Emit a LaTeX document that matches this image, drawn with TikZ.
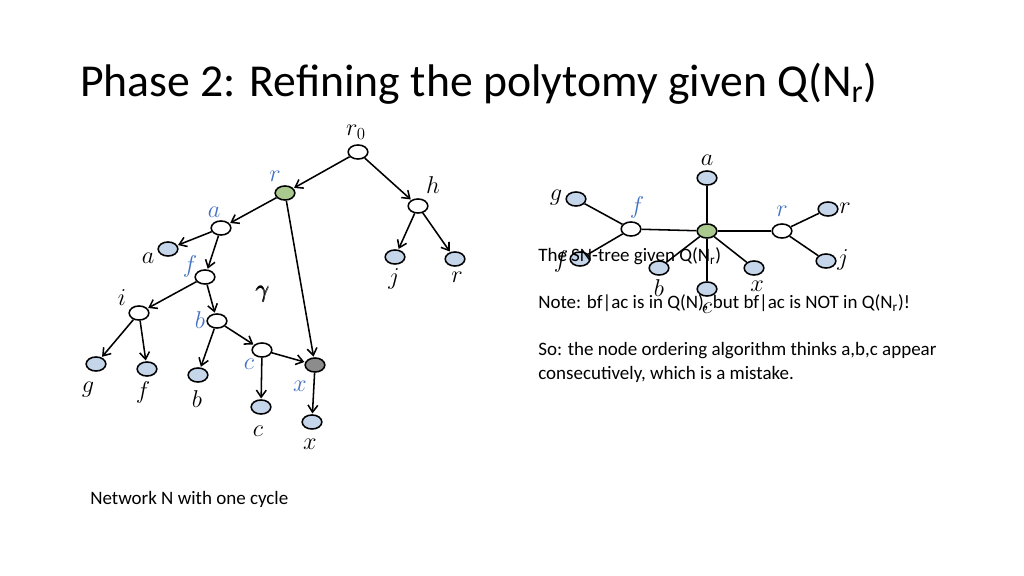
\documentclass[tikz,border=0pt]{standalone}
\usepackage{amsmath,amssymb}
\usepackage{fontspec}
\setmainfont{Carlito}
\usetikzlibrary{arrows.meta, positioning, shapes.geometric}
\definecolor{leafBlue}{HTML}{C5D5EA}
\definecolor{hubGreen}{HTML}{A9C98E}
\definecolor{retGray}{HTML}{8C8C8C}
\definecolor{labBlue}{HTML}{4472C4}
\tikzset{
    inner/.style={ellipse, draw, line width=1.1pt, fill=white, minimum width=14pt, minimum height=10pt, inner sep=0pt},
    leaf/.style={inner, fill=leafBlue},
    edge/.style={-{Straight Barb[length=5pt,width=7pt]}, line width=1.1pt, shorten >=0.5pt},
    plain/.style={line width=1.1pt},
    lab/.style={font=\LARGE},
    blab/.style={font=\LARGE, text=labBlue}
}
\begin{document}
\begin{tikzpicture}[x=0.025cm, y=-0.025cm]
        \useasboundingbox (0,0) rectangle (1024,576);
        % Title
        \node[anchor=base west, font=\fontsize{32.5}{36}\selectfont, inner sep=0pt] (title) at (80,97) {Phase 2: Refining the polytomy given Q(N\textsubscript{r})};

        % Network N
        \node[inner] (r0) at (358,152) {};
        \node[inner, fill=hubGreen] (r) at (285,193) {};
        \node[inner] (h) at (418,206) {};
        \node[inner] (na) at (221,228) {};
        \node[inner] (nf) at (205,277) {};
        \node[inner] (ni) at (139,313) {};
        \node[inner] (nb) at (217,321) {};
        \node[inner] (nc) at (262,350) {};
        \node[inner, fill=retGray] (nx) at (315,365) {};
        \node[leaf] (la) at (168,249) {};
        \node[leaf] (lg) at (96,364) {};
        \node[leaf] (lf) at (147,369) {};
        \node[leaf] (lb) at (198,375) {};
        \node[leaf] (lc) at (261,407) {};
        \node[leaf] (lx) at (312,422) {};
        \node[leaf] (lj) at (395,257) {};
        \node[leaf] (lr) at (455,259) {};
        \foreach \s/\t in {r0/r, r0/h, r/na, r/nx, h/lj, h/lr, na/la, na/nf, nf/ni, nf/nb, ni/lg, ni/lf, nb/lb, nb/nc, nc/lc, nc/nx, nx/lx}
            \draw[edge] (\s) -- (\t);

        % Labels of N
        \node[lab] at (356,132) {$r_0$};
        \node[blab] at (275,176) {$r$};
        \node[lab] at (433,185) {$h$};
        \node[blab] at (214,212) {$a$};
        \node[lab] at (148,258) {$a$};
        \node[blab] at (190,266) {$f$};
        \node[lab] at (122,298) {$i$};
        \node[blab] at (200,320) {$b$};
        \node[blab] at (249,364) {$c$};
        \node[blab] at (300,386) {$x$};
        \node[lab] at (88,390) {$g$};
        \node[lab] at (143,392) {$f$};
        \node[lab] at (197,399) {$b$};
        \node[lab] at (258,431) {$c$};
        \node[lab] at (310,444) {$x$};
        \node[lab] at (394,279) {$j$};
        \node[lab] at (457,277) {$r$};
        \node[lab] at (263,294) {$\pmb{\gamma}$};

        % SN-tree
        \node[inner, fill=hubGreen] (hub) at (707,231) {};
        \node[inner] (sf) at (631,229) {};
        \node[inner] (sr) at (782,231) {};
        \node[leaf] (ta) at (707,178) {};
        \node[leaf] (tg) at (576,199) {};
        \node[leaf] (tf) at (580,259) {};
        \node[leaf] (tr) at (828,209) {};
        \node[leaf] (tj) at (826,261) {};
        \node[leaf] (tb) at (659,268) {};
        \node[leaf] (tc) at (707,289) {};
        \node[leaf] (tx) at (754,268) {};
        \foreach \s/\t in {hub/sf, hub/sr, hub/ta, hub/tb, hub/tc, hub/tx, sf/tg, sf/tf, sr/tr, sr/tj}
            \draw[plain] (\s) -- (\t);
        \node[lab] at (707,160) {$a$};
        \node[blab] at (637,207) {$f$};
        \node[lab] at (556,198) {$g$};
        \node[lab] at (561,261) {$f$};
        \node[blab] at (782,211) {$r$};
        \node[lab] at (845,208) {$r$};
        \node[lab] at (843,260) {$j$};
        \node[lab] at (659,288) {$b$};
        \node[lab] at (707,308) {$c$};
        \node[lab] at (757,286) {$x$};

        % Captions
        \node[anchor=base west, font=\fontsize{13.5}{16}\selectfont, inner sep=0pt] (capN) at (90,504) {Network N with one cycle};
        \node[anchor=base west, align=left, font=\fontsize{13.5}{16.5}\selectfont, inner sep=0pt] (capT) at (538,379)
            {The SN-tree given Q(N\textsubscript{r})\\[17pt]
             Note: bf|ac is in Q(N), but bf|ac is NOT in Q(N\textsubscript{r})!\\[17pt]
             So: the node ordering algorithm thinks a,b,c appear\\
             consecutively, which is a mistake.};
    \end{tikzpicture}
\end{document}
